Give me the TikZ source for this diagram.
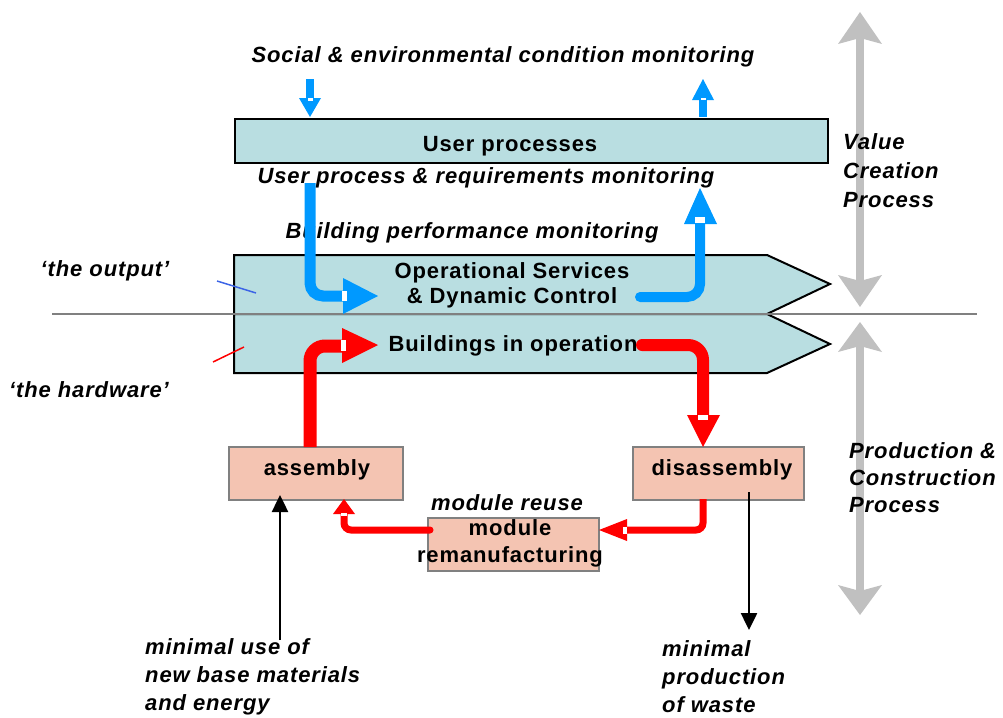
\documentclass[tikz,border=0pt]{standalone}
\usepackage{fontspec}
\setmainfont{Liberation Sans}[LetterSpace=4]
\usetikzlibrary{arrows.meta}
\definecolor{cyanfill}{RGB}{185,222,225}
\definecolor{pinkfill}{RGB}{244,196,178}
\definecolor{flowblue}{RGB}{0,153,255}
\definecolor{flowred}{RGB}{255,0,0}
\definecolor{greyarrow}{RGB}{192,192,192}
\definecolor{boxgrey}{RGB}{128,128,128}
\definecolor{pointblue}{RGB}{60,100,230}
\begin{document}
\begin{tikzpicture}[x=1pt,y=-1pt,
  cyanbox/.style={draw=black, line width=2pt, fill=cyanfill},
  pinkbox/.style={draw=boxgrey, line width=2pt, fill=pinkfill, inner sep=0pt},
  txt/.style={font=\fontsize{22}{25}\selectfont\bfseries, inner sep=0pt},
  itxt/.style={font=\fontsize{22}{25}\selectfont\bfseries\itshape, inner sep=0pt},
  notch/.style={fill=white},
  blackarrow/.style={line width=2.5pt, -{Triangle[width=16pt,length=17pt]}},
  greyshaft/.style={greyarrow, line width=8pt},
]
\useasboundingbox (0,0) rectangle (1003,717);

% ---- grey double arrows (behind the texts) ----
\coordinate (g1) at (860,12);  \coordinate (g2) at (860,307);
\coordinate (g3) at (860,322); \coordinate (g4) at (860,615);
\draw[greyshaft] (860,36) -- (860,283);
\fill[greyarrow] (g1) -- (882,44) -- (860,38) -- (838,44) -- cycle;
\fill[greyarrow] (g2) -- (882,275) -- (860,281) -- (838,275) -- cycle;
\draw[greyshaft] (860,346) -- (860,591);
\fill[greyarrow] (g3) -- (882,352) -- (860,346) -- (838,352) -- cycle;
\fill[greyarrow] (g4) -- (882,585) -- (860,591) -- (838,585) -- cycle;

% ---- boxes ----
\node[cyanbox, minimum width=593pt, minimum height=44pt, anchor=north west, inner sep=0pt] (user) at (234,118) {};
\draw[cyanbox] (234,255) -- (767,255) -- (830,284) -- (767,314) -- (234,314) -- cycle;
\draw[cyanbox] (234,314) -- (767,314) -- (830,344) -- (767,373) -- (234,373) -- cycle;
\draw[boxgrey, line width=2pt] (52,314) -- (977,314);

\node[pinkbox, minimum width=174pt, minimum height=53pt, anchor=north west] (asm) at (228,446) {};
\node[pinkbox, minimum width=171pt, minimum height=53pt, anchor=north west] (dis) at (632,446) {};
\node[pinkbox, minimum width=171pt, minimum height=53pt, anchor=north west] (mod) at (427,517) {};

% ---- texts ----
\node[itxt] (t1) at (503,57) {Social \& environmental condition monitoring};
\node[txt] (t2) at (510,146) {User processes};
\node[itxt] (t3) at (486,178) {User process \& requirements monitoring};
\node[itxt] (t4) at (472,233) {Building performance monitoring};
\node[txt, align=center] (t5) at (512,285) {Operational Services\\\& Dynamic Control};
\node[txt] (t6) at (513,346) {Buildings in operation};
\node[itxt] (t7) at (105,271) {‘the output’};
\node[itxt] (t8) at (89,390) {‘the hardware’};
\node[txt] (t9) at (317,470) {assembly};
\node[txt] (t10) at (722,470) {disassembly};
\node[itxt] (t11) at (507,503) {module reuse};
\node[txt, align=center, font=\fontsize{22}{27}\selectfont\bfseries] (t12) at (510,543) {module\\remanufacturing};
\node[itxt, align=left, anchor=west, font=\fontsize{22}{29}\selectfont\bfseries\itshape] (t13) at (843,171) {Value\\Creation\\Process};
\node[itxt, align=left, anchor=west, font=\fontsize{22}{27}\selectfont\bfseries\itshape] (t14) at (849,478) {Production \&\\Construction\\Process};
\node[itxt, align=left, anchor=west, font=\fontsize{22}{28}\selectfont\bfseries\itshape] (t15) at (145,677) {minimal use of\\new base materials\\and energy};
\node[itxt, align=left, anchor=west, font=\fontsize{22}{28}\selectfont\bfseries\itshape] (t16) at (662,677) {minimal\\production\\of waste};

% ---- small pointer lines ----
\coordinate (pb1) at (217,281); \coordinate (pb2) at (256,293);
\coordinate (pr1) at (213,362); \coordinate (pr2) at (244,347);
\draw[pointblue, line width=1.5pt] (pb1) -- (pb2);
\draw[flowred, line width=1.5pt] (pr1) -- (pr2);

% ---- coordinates for flows ----
\coordinate (ua) at (310,79);   \coordinate (ub) at (310,117);
\coordinate (uc) at (703,117);  \coordinate (ud) at (703,79);
\coordinate (b1) at (310,183);  \coordinate (b2) at (378,296);
\coordinate (b3) at (640,297);  \coordinate (b4) at (700,188);
\coordinate (r1) at (310,447);  \coordinate (r2) at (378,345);
\coordinate (r3) at (642,345);  \coordinate (r4) at (703,447);
\coordinate (r5) at (703,499);  \coordinate (r6) at (599,530);
\coordinate (r7) at (430,530);  \coordinate (r8) at (344,499);

% ---- small top blue arrows ----
\draw[flowblue, line width=8pt] (ua) -- (310,99);
\fill[flowblue] (299,98) -- (ub) -- (321,98) -- cycle;
\fill[notch] (307.5,98) rectangle (312.5,100.5);
\draw[flowblue, line width=8pt] (uc) -- (703,99);
\fill[flowblue] (692,100) -- (ud) -- (714,100) -- cycle;
\fill[notch] (700.5,97.5) rectangle (705.5,100);

% ---- blue flows ----
\draw[flowblue, line width=11pt, rounded corners=13pt] (b1) -- (310,296) -- (345,296);
\fill[flowblue] (343,278) -- (b2) -- (343,314) -- cycle;
\fill[notch] (342,291) rectangle (347,301);
\draw[flowblue, line width=10pt, rounded corners=13pt, line cap=round] (b3) -- (700,297) -- (700,222);
\fill[flowblue] (684,224) -- (b4) -- (717,224) -- cycle;
\fill[notch] (695,217) rectangle (705,223);

% ---- red flows ----
\draw[flowred, line width=13pt, rounded corners=15pt] (r1) -- (310,346) -- (344,346);
\fill[flowred] (342,328) -- (r2) -- (342,363) -- cycle;
\fill[notch] (341,340) rectangle (346,351);
\draw[flowred, line width=12pt, rounded corners=15pt, line cap=round] (r3) -- (703,345) -- (703,416);
\fill[flowred] (687,415) -- (r4) -- (720,415) -- cycle;
\fill[notch] (698,415) rectangle (708,420);
\draw[flowred, line width=7pt, rounded corners=7pt] (r5) -- (703,530) -- (627,530);
\fill[flowred] (627,519) -- (r6) -- (627,541) -- cycle;
\fill[notch] (623,526.5) rectangle (627,533.5);
\draw[flowred, line width=7pt, rounded corners=7pt, line cap=round] (r7) -- (344,530) -- (344,514);
\fill[flowred] (333,514) -- (r8) -- (355,514) -- cycle;
\fill[notch] (341,512.5) rectangle (347,515.5);

% ---- black arrows ----
\coordinate (k1) at (280,640);
\coordinate (k2) at (749,492);
\draw[blackarrow] (k1) -- (280,495);
\draw[blackarrow] (k2) -- (749,630);
\end{tikzpicture}
\end{document}
